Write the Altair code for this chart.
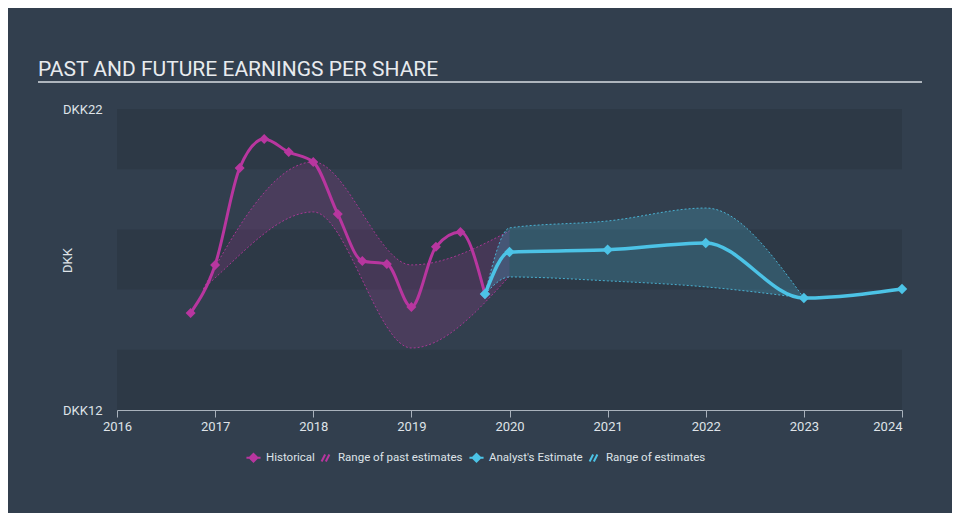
import altair as alt
import pandas as pd

# ---- data ----
hist_years = [2016.75, 2017.0, 2017.25, 2017.5, 2017.75, 2018.0, 2018.25, 2018.5, 2018.75, 2019.0, 2019.25, 2019.5, 2019.75]
hist_eps = [15.22, 16.82, 20.04, 21.0, 20.57, 20.24, 18.51, 16.95, 16.85, 15.42, 17.42, 17.91, 15.85]

est_years = [2019.75, 2020.0, 2021.0, 2022.0, 2023.0, 2024.0]
est_eps = [15.85, 17.25, 17.32, 17.55, 15.72, 16.02]

past_rng_years = [2016.88, 2017.0, 2018.0, 2019.0, 2020.0]
past_rng_high = [16.02, 16.75, 20.24, 16.82, 17.95]
past_rng_low = [16.02, 16.39, 18.58, 14.06, 16.45]

fut_rng_years = [2019.75, 2020.0, 2021.0, 2022.0, 2023.0]
fut_rng_high = [15.85, 18.05, 18.28, 18.71, 15.72]
fut_rng_low = [15.85, 16.42, 16.29, 16.09, 15.72]

band_low = [20, 16, 12]
band_high = [22, 18, 14]
x_ticks = [2016, 2017, 2018, 2019, 2020, 2021, 2022, 2023, 2024]
y_ticks = [12, 22]

SERIES = ["Historical", "Range of past estimates", "Analyst's Estimate", "Range of estimates"]
MAG = "#b8369f"
CYAN = "#4cc3e6"
BG = "#323f4e"
BAND = "#2d3946"
TXT = "#dfe3e8"
FONT = "Roboto"

LINE_SYM = "M-1,0L1,0M0,-0.55L0.55,0L0,0.55L-0.55,0Z"
HATCH_SYM = "M-0.55,0.5L-0.05,-0.5M0.05,0.5L0.55,-0.5"

hist_df = pd.DataFrame({"year": hist_years, "eps": hist_eps, "s": SERIES[0]})
est_df = pd.DataFrame({"year": est_years, "eps": est_eps, "s": SERIES[2]})
past_df = pd.DataFrame({"year": past_rng_years, "hi": past_rng_high, "lo": past_rng_low, "s": SERIES[1]})
fut_df = pd.DataFrame({"year": fut_rng_years, "hi": fut_rng_high, "lo": fut_rng_low, "s": SERIES[3]})
band_df = pd.DataFrame({"year": [x_ticks[0]] * 3, "x1": [x_ticks[-1]] * 3, "lo": band_low, "hi": band_high})

xs = alt.Scale(domain=[x_ticks[0], x_ticks[-1]], nice=False, zero=False)
ys = alt.Scale(domain=[y_ticks[0], y_ticks[-1]], nice=False, zero=False)

XAX = alt.Axis(values=x_ticks, format="d", labelFlush=False,
               labelAlign=alt.ExprRef(expr="datum.value == 2024 ? 'right' : 'center'"))
YAX = alt.Axis(values=y_ticks, labelExpr="'DKK' + datum.value", labelFlush=False,
               domain=False, ticks=False, labelPadding=15,
               titleAngle=270, titleX=-50, titleY=151, titleAlign="center",
               titleBaseline="middle", titleFontWeight="normal")


def X(field="year"):
    return alt.X(field + ":Q", scale=xs, title=None, axis=XAX)


def Y(field="eps"):
    return alt.Y(field + ":Q", scale=ys, title="DKK", axis=YAX)


shape_expr = "indexof(datum.value, 'Range') === 0 ? '%s' : '%s'" % (HATCH_SYM, LINE_SYM)
stroke_expr = ("(datum.value === 'Historical' || datum.value === 'Range of past estimates') ? '%s' : '%s'"
               % (MAG, CYAN))

legend = alt.Legend(
    orient="none", legendX=128, legendY=340, direction="horizontal", title=None,
    columnPadding=2, labelOffset=4, symbolSize=200,
    symbolType=alt.ExprRef(expr=shape_expr),
    symbolStrokeColor=alt.ExprRef(expr=stroke_expr),
    symbolStrokeWidth=2, symbolOpacity=1, labelFontSize=11.5)

COLOR = alt.Color("s:N", scale=alt.Scale(domain=SERIES, range=[MAG, MAG, CYAN, CYAN]), legend=legend)

bands = alt.Chart(band_df).mark_rect(color=BAND).encode(
    x=X(), x2="x1:Q", y=Y("lo"), y2="hi:Q")

past_area = alt.Chart(past_df).mark_area(interpolate="monotone", fillOpacity=0.18).encode(
    x=X(), y=Y("lo"), y2="hi:Q", color=COLOR)
past_hi = alt.Chart(past_df).mark_line(interpolate="monotone", strokeWidth=1, strokeDash=[2, 2], opacity=0.85).encode(
    x=X(), y=Y("hi"), color=COLOR)
past_lo = alt.Chart(past_df).mark_line(interpolate="monotone", strokeWidth=1, strokeDash=[2, 2], opacity=0.85).encode(
    x=X(), y=Y("lo"), color=COLOR)

fut_area = alt.Chart(fut_df).mark_area(interpolate="monotone", fillOpacity=0.22).encode(
    x=X(), y=Y("lo"), y2="hi:Q", color=COLOR)
fut_hi = alt.Chart(fut_df).mark_line(interpolate="monotone", strokeWidth=1, strokeDash=[2, 2], opacity=0.85).encode(
    x=X(), y=Y("hi"), color=COLOR)
fut_lo = alt.Chart(fut_df).mark_line(interpolate="monotone", strokeWidth=1, strokeDash=[2, 2], opacity=0.85).encode(
    x=X(), y=Y("lo"), color=COLOR)

hist_line = alt.Chart(hist_df).mark_line(interpolate="monotone", strokeWidth=3).encode(x=X(), y=Y(), color=COLOR)
hist_pts = alt.Chart(hist_df).mark_point(shape="diamond", filled=True, size=100, opacity=1).encode(
    x=X(), y=Y(), color=COLOR)

est_line = alt.Chart(est_df).mark_line(interpolate="monotone", strokeWidth=3.5).encode(x=X(), y=Y(), color=COLOR)
est_pts = alt.Chart(est_df).mark_point(shape="diamond", filled=True, size=110, opacity=1).encode(
    x=X(), y=Y(), color=COLOR)

title_df = pd.DataFrame({"t": ["PAST AND FUTURE EARNINGS PER SHARE"]})
title = alt.Chart(title_df).mark_text(align="left", baseline="alphabetic", font=FONT, fontSize=21,
                                      color="#e8ebee").encode(x=alt.value(-79), y=alt.value(-33), text="t:N")
underline = alt.Chart(title_df).mark_rule(color="#aeb5bd", strokeWidth=2).encode(
    x=alt.value(-79), x2=alt.value(805), y=alt.value(-27))

chart = alt.layer(
    bands, past_area, past_hi, past_lo, fut_area, fut_hi, fut_lo,
    hist_line, hist_pts, est_line, est_pts, title, underline
).properties(
    width=785, height=301,
    autosize=alt.AutoSizeParams(type="none"),
    padding={"left": 109, "top": 101, "right": 50, "bottom": 103},
    background=BG,
).configure_view(stroke=None).configure_axis(
    labelFont=FONT, labelFontSize=13, labelColor=TXT, titleFont=FONT, titleFontSize=13,
    titleColor=TXT, grid=False,
).configure_axisX(
    domainColor="#a9b2bc", tickColor="#a9b2bc", tickSize=7, labelPadding=3, domainWidth=1.2,
).configure_legend(
    labelFont=FONT, labelColor=TXT,
)

chart.save("out.html", embed_options={"renderer": "svg", "actions": False})
